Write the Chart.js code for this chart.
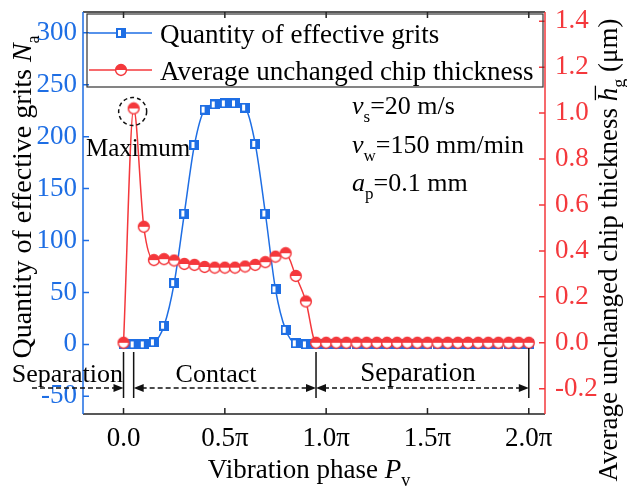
<!DOCTYPE html>
<html>
<head>
<meta charset="utf-8">
<script src="https://cdn.jsdelivr.net/npm/chart.js@4.4.0/dist/chart.umd.min.js"></script>
<style>
  html, body { margin: 0; padding: 0; background: #fff; }
  canvas { display: block; }
</style>
</head>
<body>
<canvas id="myChart" width="627" height="490"></canvas>
<script>
// vibration phase, in units of pi
const phase = [0, 0.05, 0.1, 0.15, 0.2, 0.25, 0.3, 0.35, 0.4, 0.45, 0.5, 0.55, 0.6, 0.65, 0.7, 0.75, 0.8, 0.85, 0.9, 0.95,
  1.0, 1.05, 1.1, 1.15, 1.2, 1.25, 1.3, 1.35, 1.4, 1.45, 1.5, 1.55, 1.6, 1.65, 1.7, 1.75, 1.8, 1.85, 1.9, 1.95, 2.0];
// quantity of effective grits N_a
const grits = [0, 0, 0, 2, 18, 59, 126, 192, 226, 231, 232, 232, 228, 193, 126, 53, 14, 1, 0, 0,
  0, 0, 0, 0, 0, 0, 0, 0, 0, 0, 0, 0, 0, 0, 0, 0, 0, 0, 0, 0, 0];
// average unchanged chip thickness (um)
const thickness = [0, 1.02, 0.505, 0.36, 0.364, 0.358, 0.343, 0.339, 0.33, 0.327, 0.327, 0.327, 0.332, 0.339, 0.351, 0.375, 0.39, 0.291, 0.18, 0,
  0, 0, 0, 0, 0, 0, 0, 0, 0, 0, 0, 0, 0, 0, 0, 0, 0, 0, 0, 0, 0];

const xTicks = [0, 0.5, 1, 1.5, 2];
const xTickLabels = ['0.0', '0.5π', '1.0π', '1.5π', '2.0π'];
const gritTicks = [-50, 0, 50, 100, 150, 200, 250, 300];
const thickTicks = [-0.2, 0, 0.2, 0.4, 0.6, 0.8, 1.0, 1.2, 1.4];

const BLUE = 'rgb(30,110,228)';
const RED = 'rgb(244,56,60)';
const FONT = '"Liberation Serif", "Times New Roman", serif';

function makeSquare() {
  const c = document.createElement('canvas');
  c.width = 10; c.height = 10;
  const g = c.getContext('2d');
  g.fillStyle = BLUE;
  g.fillRect(0, 0, 10, 10);
  g.fillStyle = '#fff';
  g.fillRect(2, 2, 3, 6);
  return c;
}
function makeCircle() {
  const c = document.createElement('canvas');
  c.width = 14; c.height = 14;
  const g = c.getContext('2d');
  g.beginPath(); g.arc(7, 7, 5.4, 0, Math.PI * 2); g.fillStyle = '#fff'; g.fill();
  g.beginPath(); g.arc(7, 7, 5.4, Math.PI, 0); g.closePath(); g.fillStyle = RED; g.fill();
  g.beginPath(); g.arc(7, 7, 5.4, 0, Math.PI * 2); g.strokeStyle = RED; g.lineWidth = 1.5; g.stroke();
  return c;
}
const squareMark = makeSquare();
const circleMark = makeCircle();

// parts: [text, style]  style: '' normal, 'i' italic, 'io' italic + overline, 's' subscript
function richWidth(ctx, parts, size) {
  let w = 0;
  parts.forEach(([t, s]) => {
    ctx.font = partFont(s, size);
    w += ctx.measureText(t).width;
  });
  return w;
}
function partFont(s, size) {
  if (s === 's') return Math.round(size * 0.65) + 'px ' + FONT;
  if (s === 'i' || s === 'io') return 'italic ' + size + 'px ' + FONT;
  return size + 'px ' + FONT;
}
function drawRich(ctx, parts, x, y, size, align, color) {
  const total = richWidth(ctx, parts, size);
  let cx = align === 'center' ? x - total / 2 : (align === 'right' ? x - total : x);
  ctx.fillStyle = color || '#000';
  ctx.textAlign = 'left';
  ctx.textBaseline = 'alphabetic';
  parts.forEach(([t, s]) => {
    ctx.font = partFont(s, size);
    const w = ctx.measureText(t).width;
    const dy = s === 's' ? size * 0.3 : 0;
    ctx.fillText(t, cx, y + dy);
    if (s === 'io') {
      ctx.save();
      ctx.strokeStyle = color || '#000';
      ctx.lineWidth = 1.3;
      ctx.beginPath();
      ctx.moveTo(cx + 1, y - size * 0.8);
      ctx.lineTo(cx + w + 2, y - size * 0.8);
      ctx.stroke();
      ctx.restore();
    }
    cx += w;
  });
}
function arrowHead(ctx, x, y, dir) {
  ctx.beginPath();
  ctx.moveTo(x, y);
  ctx.lineTo(x - dir * 10, y - 4);
  ctx.lineTo(x - dir * 10, y + 4);
  ctx.closePath();
  ctx.fill();
}

const decorPlugin = {
  id: 'decor',
  afterDraw(chart) {
    const ctx = chart.ctx;
    const a = chart.chartArea;
    const sx = chart.scales.x, sy = chart.scales.y, sy1 = chart.scales.y1;
    ctx.save();

    // frame
    ctx.lineWidth = 1.5;
    ctx.strokeStyle = '#222';
    ctx.beginPath();
    ctx.moveTo(a.left, a.top); ctx.lineTo(a.right, a.top);
    ctx.moveTo(a.left, a.bottom); ctx.lineTo(a.right, a.bottom);
    ctx.stroke();
    xTicks.forEach(v => {
      const px = sx.getPixelForValue(v);
      ctx.beginPath();
      ctx.moveTo(px, a.bottom); ctx.lineTo(px, a.bottom - 6);
      ctx.moveTo(px, a.top); ctx.lineTo(px, a.top + 6);
      ctx.stroke();
    });
    ctx.strokeStyle = BLUE;
    ctx.beginPath();
    ctx.moveTo(a.left, a.top); ctx.lineTo(a.left, a.bottom);
    gritTicks.forEach(v => {
      const py = sy.getPixelForValue(v);
      ctx.moveTo(a.left, py); ctx.lineTo(a.left + 6, py);
    });
    ctx.stroke();
    ctx.strokeStyle = RED;
    ctx.beginPath();
    ctx.moveTo(a.right, a.top); ctx.lineTo(a.right, a.bottom);
    thickTicks.forEach(v => {
      const py = sy1.getPixelForValue(v);
      ctx.moveTo(a.right, py); ctx.lineTo(a.right - 6, py);
    });
    ctx.stroke();

    // legend
    ctx.lineWidth = 1.2;
    ctx.strokeStyle = '#333';
    ctx.strokeRect(87, 14, 456, 73);
    const rows = [
      { y: 33, color: BLUE, mark: squareMark, text: 'Quantity of effective grits' },
      { y: 70, color: RED, mark: circleMark, text: 'Average unchanged chip thickness' }
    ];
    rows.forEach(r => {
      ctx.strokeStyle = r.color;
      ctx.lineWidth = 1.5;
      ctx.beginPath(); ctx.moveTo(89, r.y); ctx.lineTo(152, r.y); ctx.stroke();
      ctx.drawImage(r.mark, 121 - r.mark.width / 2, r.y - r.mark.height / 2);
      ctx.fillStyle = '#000';
      ctx.font = '27px ' + FONT;
      ctx.textAlign = 'left';
      ctx.textBaseline = 'alphabetic';
      ctx.fillText(r.text, 160, r.y + 10);
    });

    // maximum marker
    const mx = sx.getPixelForValue(phase[1]);
    const my = sy1.getPixelForValue(thickness[1]);
    ctx.strokeStyle = '#111';
    ctx.lineWidth = 1.5;
    ctx.setLineDash([4, 3]);
    ctx.beginPath(); ctx.arc(mx - 1, my + 3, 14, 0, Math.PI * 2); ctx.stroke();
    ctx.setLineDash([]);
    drawRich(ctx, [['Maximum', '']], 86, 156, 25, 'left');

    // process parameters
    drawRich(ctx, [['v', 'i'], ['s', 's'], ['=20 m/s', '']], 352, 114, 26, 'left');
    drawRich(ctx, [['v', 'i'], ['w', 's'], ['=150 mm/min', '']], 352, 153, 26, 'left');
    drawRich(ctx, [['a', 'i'], ['p', 's'], ['=0.1 mm', '']], 352, 191, 26, 'left');

    // phase zones
    const x0 = sx.getPixelForValue(0), x1 = sx.getPixelForValue(0.05);
    const x2 = sx.getPixelForValue(0.95), x3 = sx.getPixelForValue(2.0);
    const ay = 388;
    ctx.strokeStyle = '#111';
    ctx.fillStyle = '#111';
    ctx.lineWidth = 1.5;
    ctx.beginPath();
    [x0, x1, x2].forEach(px => { ctx.moveTo(px, 352); ctx.lineTo(px, 398); });
    ctx.moveTo(x3, 348); ctx.lineTo(x3, 398);
    ctx.stroke();
    ctx.setLineDash([5, 3]);
    ctx.beginPath();
    ctx.moveTo(32, ay); ctx.lineTo(x0 - 8, ay);
    ctx.moveTo(x1 + 8, ay); ctx.lineTo(x2 - 8, ay);
    ctx.moveTo(x2 + 8, ay); ctx.lineTo(x3 - 8, ay);
    ctx.stroke();
    ctx.setLineDash([]);
    arrowHead(ctx, x0, ay, 1);
    arrowHead(ctx, x1, ay, -1);
    arrowHead(ctx, x2, ay, 1);
    arrowHead(ctx, x2, ay, -1);
    arrowHead(ctx, x3, ay, 1);
    drawRich(ctx, [['Separation', '']], 123, 382, 26, 'right');
    drawRich(ctx, [['Contact', '']], 216, 382, 26, 'center');
    drawRich(ctx, [['Separation', '']], 418, 381, 27, 'center');

    // axis titles
    drawRich(ctx, [['Vibration phase ', ''], ['P', 'i'], ['v', 's']], 309, 478, 27, 'center');
    ctx.save();
    ctx.translate(22, 197);
    ctx.rotate(-Math.PI / 2);
    drawRich(ctx, [['Quantity of effective grits ', ''], ['N', 'i'], ['a', 's']], 0, 9, 28, 'center');
    ctx.restore();
    ctx.save();
    ctx.translate(608, 250);
    ctx.rotate(-Math.PI / 2);
    drawRich(ctx, [['Average unchanged chip thickness ', ''], ['h', 'io'], ['g', 's'], [' (μm)', '']], 0, 9, 27, 'center');
    ctx.restore();

    ctx.restore();
  }
};

const tickFont = { family: FONT, size: 27 };

new Chart(document.getElementById('myChart').getContext('2d'), {
  type: 'line',
  data: {
    datasets: [
      {
        label: 'Average unchanged chip thickness',
        data: phase.map((p, i) => ({ x: p, y: thickness[i] })),
        yAxisID: 'y1',
        borderColor: RED,
        borderWidth: 1.5,
        pointStyle: circleMark,
        cubicInterpolationMode: 'monotone',
        order: 0
      },
      {
        label: 'Quantity of effective grits',
        data: phase.map((p, i) => ({ x: p, y: grits[i] })),
        yAxisID: 'y',
        borderColor: BLUE,
        borderWidth: 1.5,
        pointStyle: squareMark,
        cubicInterpolationMode: 'monotone',
        order: 1
      }
    ]
  },
  options: {
    responsive: false,
    animation: false,
    layout: { padding: { top: 12, left: 0, right: 0, bottom: 0 } },
    plugins: { legend: { display: false }, tooltip: { enabled: false } },
    scales: {
      x: {
        type: 'linear',
        min: -0.2,
        max: 2.08,
        afterBuildTicks: s => { s.ticks = xTicks.map(v => ({ value: v })); },
        afterFit: s => { s.height = 76; s.paddingLeft = 0; s.paddingRight = 0; },
        ticks: {
          callback: (v, i) => xTickLabels[i],
          font: tickFont, color: '#000', padding: 9, maxRotation: 0, autoSkip: false
        },
        grid: { display: false, drawTicks: false },
        border: { display: false }
      },
      y: {
        position: 'left',
        min: -67,
        max: 320,
        afterBuildTicks: s => { s.ticks = gritTicks.map(v => ({ value: v })); },
        afterFit: s => { s.width = 83; s.paddingTop = 0; s.paddingBottom = 0; },
        ticks: { callback: v => String(v), font: tickFont, color: BLUE, padding: 6 },
        grid: { display: false, drawTicks: false },
        border: { display: false }
      },
      y1: {
        position: 'right',
        min: -0.31,
        max: 1.44,
        afterBuildTicks: s => { s.ticks = thickTicks.map(v => ({ value: v })); },
        afterFit: s => { s.width = 82; s.paddingTop = 0; s.paddingBottom = 0; },
        ticks: { callback: v => v.toFixed(1), font: tickFont, color: RED, padding: 10 },
        grid: { display: false, drawTicks: false },
        border: { display: false }
      }
    }
  },
  plugins: [decorPlugin]
});
</script>
</body>
</html>
